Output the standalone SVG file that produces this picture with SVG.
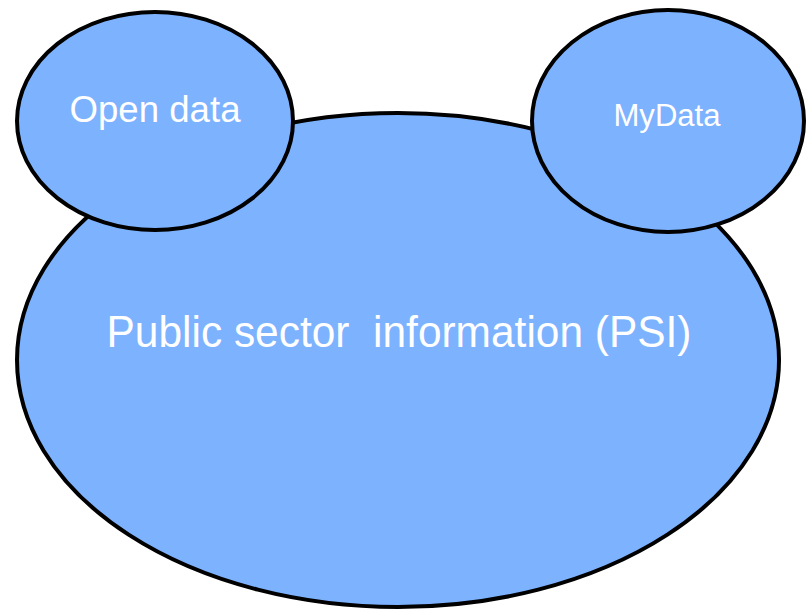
<svg xmlns="http://www.w3.org/2000/svg" width="806" height="610" viewBox="0 0 806 610">
<style>
.bub{fill:#7db2ff;stroke:#000;stroke-width:4}
.lbl{fill:#fff;font-family:"Liberation Sans",Arial,sans-serif;text-anchor:middle}
</style>
<rect width="806" height="610" fill="#fff"/>
<g id="psi">
<ellipse class="bub" cx="398" cy="360" rx="381" ry="247"/>
<text class="lbl" x="399" y="347" font-size="44" textLength="585" lengthAdjust="spacingAndGlyphs" xml:space="preserve">Public sector  information (PSI)</text>
</g>
<g id="opendata">
<ellipse class="bub" cx="155" cy="121" rx="138" ry="109"/>
<text class="lbl" x="155" y="122" font-size="36" textLength="171" lengthAdjust="spacingAndGlyphs">Open data</text>
</g>
<g id="mydata">
<ellipse class="bub" cx="668" cy="121" rx="136" ry="111"/>
<text class="lbl" x="667" y="126" font-size="31" textLength="107" lengthAdjust="spacingAndGlyphs">MyData</text>
</g>
<g id="connectors"/>
</svg>
